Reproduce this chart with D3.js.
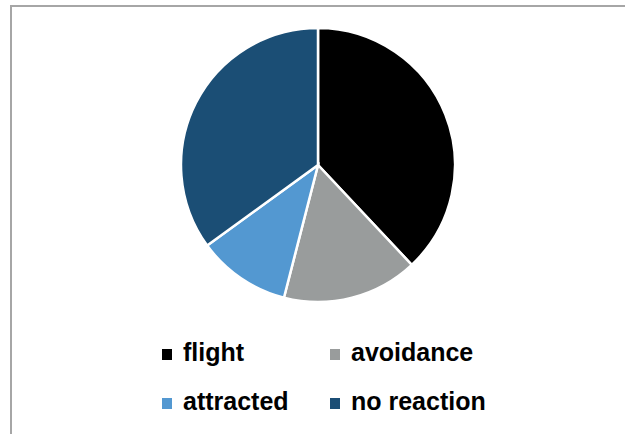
<!DOCTYPE html>
<html lang="en">
	<head>
		<meta charset="utf-8">
		<title>Reactions pie</title>
		<script src="https://d3js.org/d3.v7.min.js"></script>
		<style>
			body { margin: 0; background: white; }
		</style>
	</head>
	<body>
		<script type="text/javascript">

			// data
			var categories = ["flight", "avoidance", "attracted", "no reaction"];
			var values = [38, 16, 11, 35];
			var colors = ["#000000", "#999c9c", "#5398d1", "#1b4e75"];

			var w = 625;
			var h = 434;
			var cx = 318, cy = 165, radius = 137;

			var svg = d3.select("body").append("svg").attr("width", w).attr("height", h);

			// chart frame (only top and left visible)
			svg.append("rect").attr("x", 11).attr("y", 6).attr("width", 640).attr("height", 460)
				.attr("fill", "white").attr("stroke", "#a6a6a6").attr("stroke-width", 2);

			var pie = d3.pie().sort(null).value(function(d) { return d; });
			var arc = d3.arc().innerRadius(0).outerRadius(radius);

			var g = svg.append("g").attr("transform", "translate(" + [cx, cy] + ")");
			g.selectAll("path").data(pie(values)).enter().append("path")
				.attr("d", arc)
				.attr("fill", function(d, i) { return colors[i]; })
				.attr("stroke", "white").attr("stroke-width", 2.5);

			// legend, 2 columns
			var legend = svg.append("g");
			var item = legend.selectAll("g").data(categories).enter().append("g")
				.attr("transform", function(d, i) {
					return "translate(" + [162 + (i % 2) * 168, 361 + Math.floor(i / 2) * 49] + ")";
				});
			item.append("rect").attr("x", 0).attr("y", -12).attr("width", 10).attr("height", 11)
				.attr("fill", function(d, i) { return colors[i]; });
			item.append("text").attr("x", 21).attr("y", 0)
				.style("font-family", "'Liberation Sans', Arial, sans-serif")
				.style("font-weight", "bold").style("font-size", "25px").style("fill", "#000")
				.text(function(d) { return d; });

		</script>
	</body>
</html>
